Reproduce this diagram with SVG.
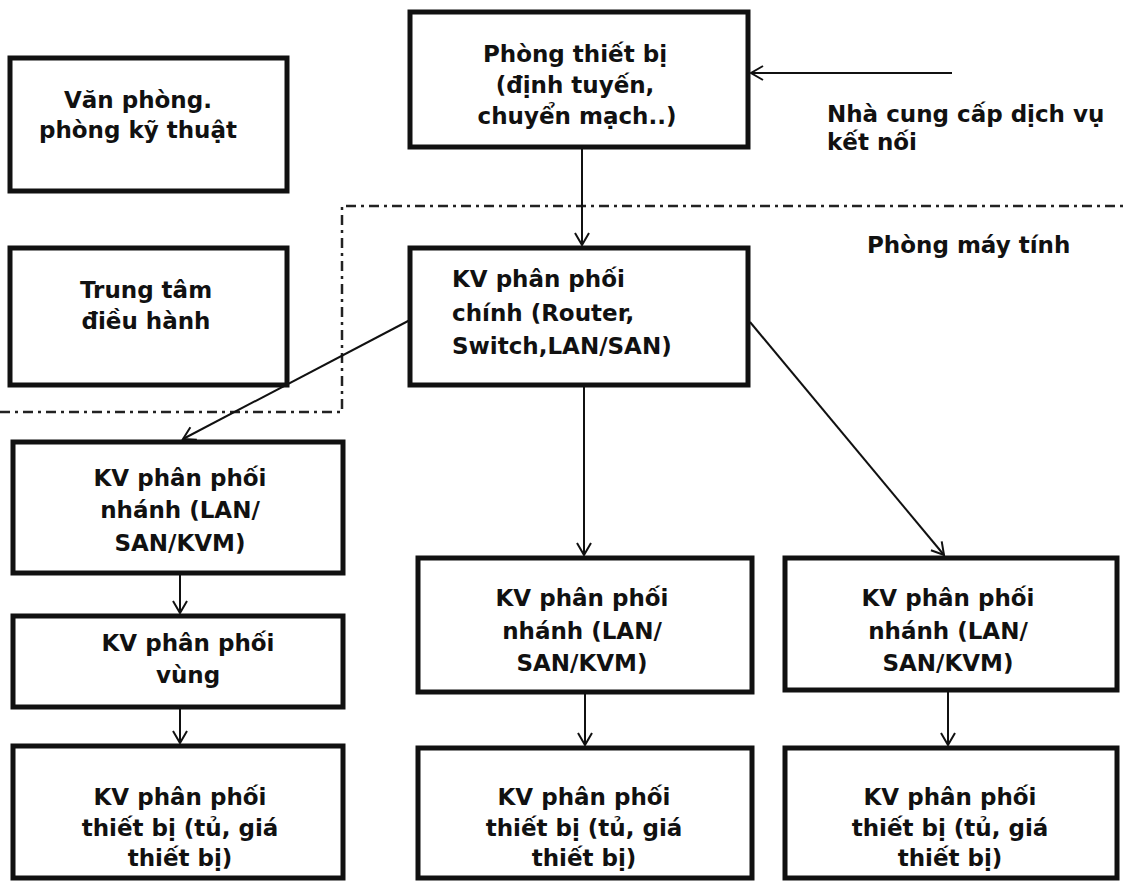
<svg xmlns="http://www.w3.org/2000/svg" width="1128" height="881" viewBox="0 0 1128 881">
<defs>
<marker id="arr" markerUnits="userSpaceOnUse" markerWidth="16" markerHeight="20" refX="13" refY="8" orient="auto" viewBox="0 0 16 16">
<path d="M1,1 L13,8 L1,15" fill="none" stroke="#111" stroke-width="2"/>
</marker>
<style>
.box{fill:#fff;stroke:#111;stroke-width:5}
.t{font-family:"DejaVu Sans","Liberation Sans",sans-serif;font-weight:bold;font-size:23px;fill:#111}
.c{text-anchor:middle}
.con{stroke:#111;stroke-width:2;fill:none;marker-end:url(#arr)}
.zone{stroke:#222;stroke-width:2.5;fill:none;stroke-dasharray:10 5 3 5}
</style>
</defs>
<rect width="1128" height="881" fill="#fff"/>
<path class="zone" d="M0,412 H342 V206 H1128"/>
<g id="connectors">
<line class="con" x1="952" y1="73" x2="751" y2="73"/>
<line class="con" x1="582" y1="147" x2="582" y2="245"/>
<line class="con" x1="410" y1="320" x2="183" y2="439"/>
<line class="con" x1="584" y1="385" x2="584" y2="555"/>
<line class="con" x1="750" y1="322" x2="944" y2="555"/>
<line class="con" x1="180" y1="573" x2="180" y2="613"/>
<line class="con" x1="180" y1="707" x2="180" y2="743"/>
<line class="con" x1="585" y1="692" x2="585" y2="745"/>
<line class="con" x1="948" y1="690" x2="948" y2="745"/>
</g>
<g id="van-phong">
<rect class="box" x="10" y="58" width="277" height="133"/>
<text class="t c" x="138" y="108">Văn phòng.</text>
<text class="t c" x="138" y="138">phòng kỹ thuật</text>
</g>
<g id="trung-tam">
<rect class="box" x="10" y="248" width="277" height="137"/>
<text class="t c" x="146" y="298">Trung tâm</text>
<text class="t c" x="146" y="329">điều hành</text>
</g>
<g id="phong-thiet-bi">
<rect class="box" x="410" y="12" width="338" height="135"/>
<text class="t c" x="575" y="62">Phòng thiết bị</text>
<text class="t c" x="575" y="93">(định tuyến,</text>
<text class="t c" x="577" y="124">chuyển mạch..)</text>
</g>
<g id="nha-cung-cap">
<text class="t" x="827" y="122">Nhà cung cấp dịch vụ</text>
<text class="t" x="827" y="150">kết nối</text>
</g>
<text id="phong-may-tinh" class="t" x="867" y="253">Phòng máy tính</text>
<g id="kv-chinh">
<rect class="box" x="410" y="248" width="338" height="137"/>
<text class="t" x="452" y="287">KV phân phối</text>
<text class="t" x="452" y="321">chính (Router,</text>
<text class="t" x="452" y="354">Switch,LAN/SAN)</text>
</g>
<g id="kv-nhanh-1">
<rect class="box" x="13" y="442" width="330" height="131"/>
<text class="t c" x="180" y="486">KV phân phối</text>
<text class="t c" x="180" y="518">nhánh (LAN/</text>
<text class="t c" x="180" y="551">SAN/KVM)</text>
</g>
<g id="kv-vung">
<rect class="box" x="13" y="616" width="330" height="91"/>
<text class="t c" x="188" y="651">KV phân phối</text>
<text class="t c" x="188" y="683">vùng</text>
</g>
<g id="kv-thietbi-1">
<rect class="box" x="13" y="746" width="330" height="132"/>
<text class="t c" x="180" y="805">KV phân phối</text>
<text class="t c" x="180" y="836">thiết bị (tủ, giá</text>
<text class="t c" x="180" y="866">thiết bị)</text>
</g>
<g id="kv-nhanh-2">
<rect class="box" x="418" y="558" width="334" height="134"/>
<text class="t c" x="582" y="606">KV phân phối</text>
<text class="t c" x="582" y="639">nhánh (LAN/</text>
<text class="t c" x="582" y="671">SAN/KVM)</text>
</g>
<g id="kv-nhanh-3">
<rect class="box" x="785" y="558" width="332" height="132"/>
<text class="t c" x="948" y="606">KV phân phối</text>
<text class="t c" x="948" y="639">nhánh (LAN/</text>
<text class="t c" x="948" y="671">SAN/KVM)</text>
</g>
<g id="kv-thietbi-2">
<rect class="box" x="418" y="748" width="334" height="130"/>
<text class="t c" x="584" y="805">KV phân phối</text>
<text class="t c" x="584" y="836">thiết bị (tủ, giá</text>
<text class="t c" x="584" y="866">thiết bị)</text>
</g>
<g id="kv-thietbi-3">
<rect class="box" x="785" y="748" width="332" height="130"/>
<text class="t c" x="950" y="805">KV phân phối</text>
<text class="t c" x="950" y="836">thiết bị (tủ, giá</text>
<text class="t c" x="950" y="866">thiết bị)</text>
</g>
</svg>
